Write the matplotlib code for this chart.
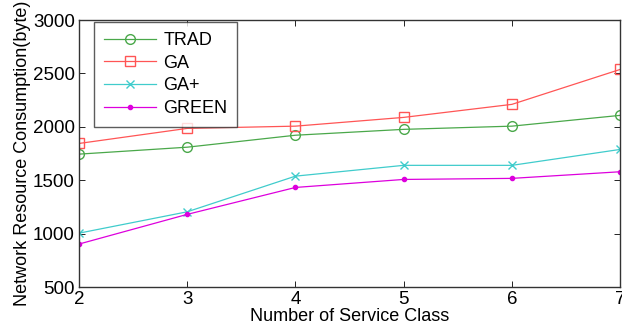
import matplotlib.pyplot as plt
import numpy as np

plt.rcParams['font.family'] = ['Liberation Sans', 'DejaVu Sans']

service_class = [2, 3, 4, 5, 6, 7]
trad = [1745, 1810, 1922, 1977, 2007, 2108]
ga = [1845, 1986, 2007, 2089, 2211, 2538]
ga_plus = [1005, 1205, 1539, 1640, 1640, 1789]
green = [903, 1181, 1433, 1508, 1518, 1580]

fig = plt.figure(figsize=(6.22, 3.35), dpi=100)
ax = fig.add_axes([0.127, 0.143, 0.870, 0.797])

ax.plot(service_class, trad, 'o-', color='#4aa84a', mfc='none', ms=7, lw=0.9, label='TRAD')
ax.plot(service_class, ga, 's-', color='#ff5555', mfc='none', ms=7, lw=0.9, label='GA')
ax.plot(service_class, ga_plus, 'x-', color='#40cccc', ms=6, lw=0.9, label='GA+')
ax.plot(service_class, green, '.-', color='#dd00dd', ms=6, lw=0.9, label='GREEN')

ax.set_xlim(2, 7)
ax.set_ylim(500, 3000)
ax.set_xticks(service_class)
ax.set_yticks(np.arange(500, 3001, 500))
ax.tick_params(direction='in', top=True, right=True, labelsize=13.5, length=4, width=0.6, pad=3)
for s in ax.spines.values():
    s.set_linewidth(1.0)
    s.set_color('#333333')

ax.set_xlabel('Number of Service Class', fontsize=13, labelpad=0)
ax.set_ylabel('Network Resource Consumption(byte)', fontsize=13, labelpad=1)

leg = ax.legend(loc='upper left', bbox_to_anchor=(0.024, 1.0), fontsize=13, fancybox=False,
                edgecolor='#333333', handlelength=2.9, handletextpad=0.4,
                borderpad=0.55, labelspacing=0.32, borderaxespad=0.1)
leg.get_frame().set_linewidth(1.0)

fig.savefig('out.png', dpi=100)
